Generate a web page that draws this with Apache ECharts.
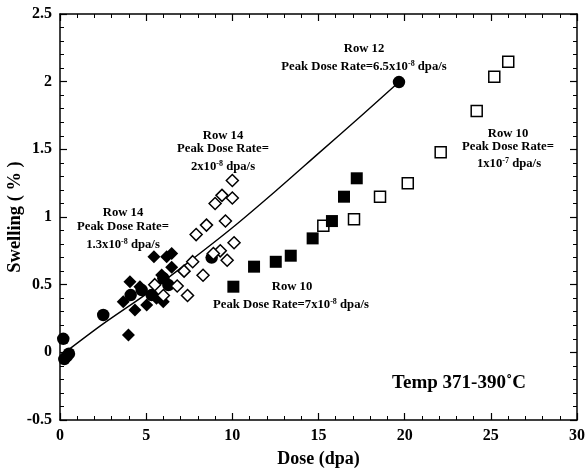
<!DOCTYPE html>
<html>
<head>
<meta charset="utf-8">
<script src="https://cdn.jsdelivr.net/npm/echarts@6/dist/echarts.min.js"></script>
<style>
html,body{margin:0;padding:0;background:#fff;}
#chart{width:587px;height:470px;}
</style>
</head>
<body>
<div id="chart"></div>
<script>
// Row 12, peak dose rate 6.5e-8 dpa/s (filled circles)
var row12X = [0.19, 0.25, 0.39, 0.52, 2.51, 4.10, 4.74, 5.32, 6.00, 6.29, 8.80, 19.67];
var row12Y = [0.10, -0.05, -0.03, -0.01, 0.276, 0.423, 0.46, 0.423, 0.547, 0.497, 0.70, 1.997];
// Row 12 fit curve
var fitX = [0.3, 2.5, 5.0, 7.5, 10.0, 12.5, 15.0, 17.5, 19.67];
var fitY = [0.0, 0.21, 0.43, 0.67, 0.92, 1.19, 1.47, 1.75, 1.997];
// Row 14, 1.3e-8 dpa/s (filled diamonds)
var row14aX = [5.45, 6.19, 6.48, 6.48, 4.06, 4.64, 3.67, 4.35, 5.03, 5.99, 3.97, 5.90, 5.60];
var row14aY = [0.706, 0.706, 0.73, 0.628, 0.522, 0.485, 0.374, 0.313, 0.35, 0.374, 0.128, 0.571, 0.40];
// Row 14, 2e-8 dpa/s (open diamonds)
var row14bX = [10.0, 10.0, 9.4, 9.0, 9.6, 8.5, 7.9, 10.1, 9.3, 8.9, 9.7, 7.7, 7.2, 8.3, 6.8, 7.4, 6.0, 5.5];
var row14bY = [1.27, 1.14, 1.16, 1.10, 0.97, 0.94, 0.87, 0.81, 0.75, 0.73, 0.68, 0.67, 0.60, 0.57, 0.49, 0.42, 0.42, 0.50];
// Row 10, 1e-7 dpa/s (open squares)
var row10aX = [15.28, 17.06, 18.57, 20.18, 22.09, 24.18, 25.20, 26.01];
var row10aY = [0.935, 0.983, 1.150, 1.249, 1.478, 1.783, 2.036, 2.147];
// Row 10, 7e-8 dpa/s (filled squares)
var row10bX = [10.06, 11.26, 12.52, 13.39, 14.66, 15.78, 16.48, 17.22];
var row10bY = [0.485, 0.633, 0.669, 0.714, 0.842, 0.970, 1.150, 1.286];

var xTicks = {min: 0, max: 30, interval: 5};
var yTicks = {min: -0.5, max: 2.5, interval: 0.5};

function pairs(xs, ys) { return xs.map(function (x, i) { return [x, ys[i]]; }); }

var FONT = '"Liberation Serif", "Times New Roman", serif';
var chart = echarts.init(document.getElementById('chart'), null, {renderer: 'canvas'});

function axisCommon(show) {
  return {
    axisLine: {show: true, onZero: false, lineStyle: {color: '#000', width: 1.5}},
    axisTick: {show: true, inside: true, length: 7, lineStyle: {color: '#000', width: 1.2}},
    minorTick: {show: true, splitNumber: 5, length: 4, lineStyle: {color: '#000', width: 1}},
    splitLine: {show: false},
    axisLabel: {show: show, color: '#000', fontFamily: FONT, fontWeight: 'bold', fontSize: 16, margin: 8}
  };
}

var nameStyle = {color: '#000', fontFamily: FONT, fontWeight: 'bold', fontSize: 18};
var xb = Object.assign(axisCommon(true), {type: 'value', position: 'bottom', min: xTicks.min, max: xTicks.max, interval: xTicks.interval,
  name: 'Dose (dpa)', nameLocation: 'middle', nameGap: 30, nameTextStyle: nameStyle});
var xt = Object.assign(axisCommon(false), {type: 'value', position: 'top', min: xTicks.min, max: xTicks.max, interval: xTicks.interval});
var yl = Object.assign(axisCommon(true), {type: 'value', position: 'left', min: yTicks.min, max: yTicks.max, interval: yTicks.interval,
  name: 'Swelling ( % )', nameLocation: 'middle', nameGap: 35, nameMoveOverlap: false,
  nameTextStyle: Object.assign({}, nameStyle, {fontSize: 18.5})});
var yr = Object.assign(axisCommon(false), {type: 'value', position: 'right', min: yTicks.min, max: yTicks.max, interval: yTicks.interval});

var sup = {fontSize: 8, fontFamily: FONT, fontWeight: 'bold', verticalAlign: 'top', lineHeight: 14};
var base = {fontSize: 12.7, fontFamily: FONT, fontWeight: 'bold', lineHeight: 14};
function label(text, x, y) {
  return {type: 'text', x: x, y: y, z: 100,
    style: {text: text, fill: '#000', font: 'bold 12.7px ' + FONT, align: 'center', verticalAlign: 'middle',
      rich: {s: sup, b: base}}};
}

chart.setOption({
  animation: false,
  backgroundColor: '#fff',
  grid: {left: 60, right: 10, top: 14, bottom: 50, containLabel: false, outerBoundsMode: 'none'},
  xAxis: [xb, xt],
  yAxis: [yl, yr],
  series: [
    {type: 'line', data: pairs(fitX, fitY), smooth: 0.3, showSymbol: false, symbol: 'none',
      lineStyle: {color: '#000', width: 1.4}, z: 2},
    {type: 'scatter', data: pairs(row12X, row12Y), symbol: 'circle', symbolSize: 12.5,
      itemStyle: {color: '#000', opacity: 1}, z: 3},
    {type: 'scatter', data: pairs(row14aX, row14aY), symbol: 'diamond', symbolSize: [13, 13],
      itemStyle: {color: '#000', opacity: 1}, z: 3},
    {type: 'scatter', data: pairs(row14bX, row14bY), symbol: 'diamond', symbolSize: [12, 12],
      itemStyle: {color: '#fff', borderColor: '#000', borderWidth: 1.5, opacity: 1}, z: 4},
    {type: 'scatter', data: pairs(row10aX, row10aY), symbol: 'rect', symbolSize: 11,
      itemStyle: {color: '#fff', borderColor: '#000', borderWidth: 1.5, opacity: 1}, z: 4},
    {type: 'scatter', data: pairs(row10bX, row10bY), symbol: 'rect', symbolSize: 12,
      itemStyle: {color: '#000', opacity: 1}, z: 5}
  ],
  graphic: [
    label('{b|Row 12}', 364, 49),
    label('{b|Peak Dose Rate=6.5x10}{s|-8}{b| dpa/s}', 364, 67),
    label('{b|Row 14}', 223, 136),
    label('{b|Peak Dose Rate=}', 223, 149),
    label('{b|2x10}{s|-8}{b| dpa/s}', 223, 167),
    label('{b|Row 14}', 123, 213),
    label('{b|Peak Dose Rate=}', 123, 227),
    label('{b|1.3x10}{s|-8}{b| dpa/s}', 123, 245),
    label('{b|Row 10}', 508, 134),
    label('{b|Peak Dose Rate=}', 508, 147),
    label('{b|1x10}{s|-7}{b| dpa/s}', 509, 164),
    label('{b|Row 10}', 292, 287),
    label('{b|Peak Dose Rate=7x10}{s|-8}{b| dpa/s}', 291, 305),
    {type: 'text', x: 459, y: 383, z: 100,
      style: {text: 'Temp 371-390\u02DAC', fill: '#000', font: 'bold 19px ' + FONT, align: 'center', verticalAlign: 'middle'}}
  ]
});
</script>
</body>
</html>
